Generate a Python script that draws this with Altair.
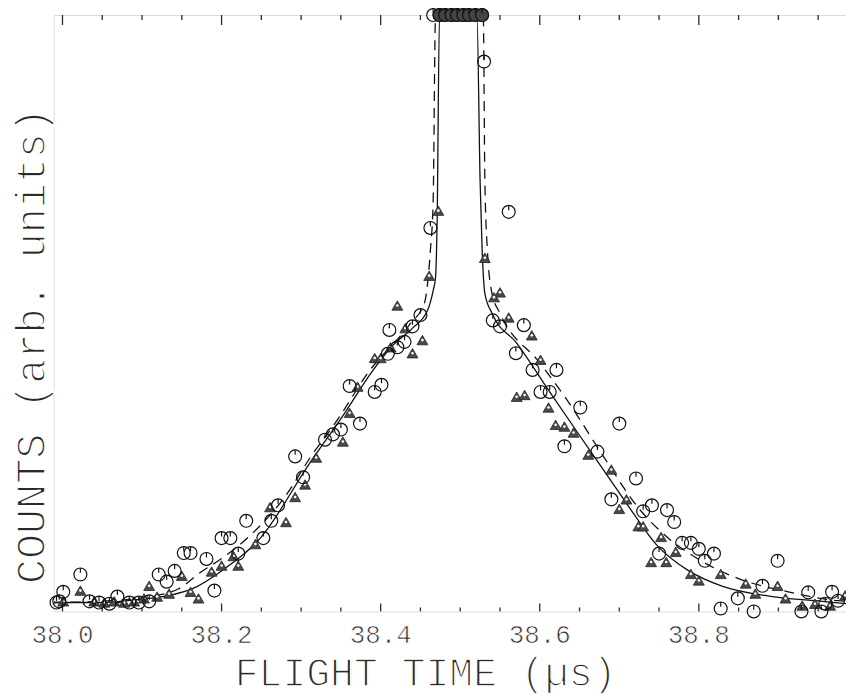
import altair as alt
import pandas as pd

# ---- data (x: flight time in µs, y: counts, arb. units 0-100) ----
circle_x = [37.9925, 38.001, 38.0225, 37.996, 38.034, 38.046, 38.059, 38.069, 38.084, 38.096,
            38.109, 38.121, 38.131, 38.141, 38.1525, 38.161, 38.181, 38.191, 38.200, 38.211,
            38.221, 38.231, 38.2525, 38.2625, 38.271, 38.2925, 38.3025, 38.33, 38.34, 38.35,
            38.361, 38.374, 38.3925, 38.401, 38.409, 38.411, 38.421, 38.43, 38.44, 38.45,
            38.4625,
            38.466, 38.474, 38.481, 38.489, 38.496, 38.504, 38.511, 38.519, 38.5275,
            38.53, 38.561, 38.541, 38.55, 38.58, 38.57, 38.591, 38.621, 38.601, 38.6125,
            38.651, 38.70, 38.631, 38.6725, 38.721, 38.69, 38.741, 38.73, 38.76, 38.769,
            38.75, 38.779, 38.79, 38.80, 38.819, 38.8075, 38.899, 38.849, 38.88, 38.8275,
            38.869, 38.9675, 38.9375, 38.975, 38.929, 38.954, 38.959]
circle_y = [1.5, 3.3, 6.2, 1.7, 1.7, 1.5, 1.3, 2.5, 1.5, 1.5,
            1.7, 6.2, 5.0, 6.8, 9.8, 9.8, 8.8, 3.5, 12.3, 12.3,
            9.7, 15.2, 12.3, 15.2, 17.8, 26.0, 22.5, 28.8, 29.7, 30.5,
            37.8, 31.5, 36.8, 38.0, 43.2, 47.2, 44.3, 45.2, 47.8, 49.7,
            64.3,
            100, 100, 100, 100, 100, 100, 100, 100, 100,
            92.2, 67.0, 48.8, 47.8, 48.0, 43.3, 40.5, 40.5, 36.8, 36.8,
            34.2, 31.5, 27.7, 26.8, 22.3, 18.8, 17.8, 16.8, 17.0, 15.0,
            9.7, 11.5, 11.5, 10.5, 9.7, 8.5, 8.5, 2.2, 4.3, 0.5,
            0.0, 3.3, 3.2, 1.8, 0.0, 0.0, 1.3]

tri_x = [38.001, 38.0225, 38.04, 38.0525, 38.065, 38.0775, 38.09, 38.1025, 38.109, 38.119,
         38.134, 38.15, 38.161, 38.171, 38.1875, 38.20, 38.215, 38.221, 38.2425, 38.261,
         38.281, 38.2925, 38.305, 38.319, 38.3525, 38.361, 38.371, 38.3925, 38.40, 38.4125,
         38.421, 38.431, 38.44, 38.4525, 38.461, 38.4725,
         38.476, 38.484, 38.491, 38.499, 38.506, 38.514, 38.521,
         38.531, 38.5425, 38.55, 38.561, 38.59, 38.601, 38.571, 38.581, 38.611, 38.62,
         38.631, 38.6425, 38.661, 38.69, 38.709, 38.70, 38.724, 38.73, 38.7525, 38.74,
         38.759, 38.771, 38.79, 38.80, 38.8275, 38.859, 38.899, 38.93, 38.984, 38.871,
         38.909, 38.946, 38.965]
tri_y = [1.7, 3.5, 1.7, 1.5, 1.7, 1.5, 1.7, 2.2, 4.3, 2.5,
         3.0, 6.0, 3.3, 2.2, 6.7, 7.7, 9.3, 7.7, 11.3, 17.5,
         15.0, 19.2, 21.3, 25.8, 28.5, 33.3, 37.7, 42.5, 42.5, 44.3,
         51.3, 47.5, 43.3, 45.5, 56.3, 67.2,
         100, 100, 100, 100, 100, 100, 100,
         59.3, 52.7, 53.5, 49.3, 46.3, 42.2, 36.0, 36.3, 34.2, 31.3,
         31.0, 30.0, 26.3, 23.8, 18.8, 17.2, 14.3, 14.3, 12.5, 8.3,
         8.3, 10.0, 6.3, 5.2, 6.3, 4.7, 4.3, 1.0, 2.7, 3.0,
         2.2, 1.3, 1.0]

solid_x = [37.989, 38.046, 38.096, 38.134, 38.163, 38.200, 38.250, 38.309, 38.355, 38.388,
           38.413, 38.440, 38.459, 38.466, 38.469, 38.471, 38.474,
           38.521, 38.525, 38.5275, 38.531, 38.540, 38.571, 38.6125, 38.646, 38.684,
           38.7175, 38.746, 38.7875, 38.83, 38.8925, 38.955, 38.986]
solid_y = [1.5, 1.5, 2.0, 2.7, 3.8, 6.8, 12.5, 24.5, 33.3, 40.0,
           44.3, 47.5, 50.5, 53.8, 56.0, 65.5, 100,
           100, 72.2, 61.0, 53.3, 50.0, 45.0, 36.8, 30.3, 23.0,
           16.5, 11.3, 6.8, 4.2, 2.5, 1.7, 1.3]

dash_x = [37.989, 38.046, 38.109, 38.146, 38.175, 38.196, 38.234, 38.28, 38.3125, 38.346,
          38.384, 38.4375, 38.455, 38.459, 38.4625, 38.466, 38.469,
          38.529, 38.531, 38.534, 38.54, 38.55, 38.60, 38.634, 38.68, 38.725,
          38.7625, 38.799, 38.85, 38.9125, 38.975, 38.986]
dash_y = [1.5, 1.7, 2.5, 3.8, 6.7, 8.5, 12.5, 19.3, 26.0, 32.2,
          40.0, 48.3, 51.7, 55.0, 60.5, 68.8, 100,
          100, 72.2, 61.0, 53.3, 50.0, 41.7, 35.5, 26.0, 17.2,
          12.2, 8.8, 5.5, 3.3, 1.8, 1.7]

major_ticks = [38.0, 38.2, 38.4, 38.6, 38.8]
tick_labels = ["38.0", "38.2", "38.4", "38.6", "38.8"]
minor_ticks = [38.05, 38.10, 38.15, 38.25, 38.30, 38.35, 38.45, 38.50, 38.55,
               38.65, 38.70, 38.75, 38.85, 38.90, 38.95]
x_title = "FLIGHT TIME (µs)"
y_title = "COUNTS (arb. units)"

X_DOMAIN = [37.989, 38.985]
Y_DOMAIN = [0, 100]
FONT = "Liberation Mono"
INK = "#2a2a2a"
W, H = 797, 600

circles = pd.DataFrame({"t": circle_x, "c": circle_y})
tris = pd.DataFrame({"t": tri_x, "c": tri_y})
solid = pd.DataFrame({"t": solid_x, "c": solid_y})
dashed = pd.DataFrame({"t": dash_x, "c": dash_y})
majors = pd.DataFrame({"t": major_ticks, "label": tick_labels})
minors = pd.DataFrame({"t": minor_ticks})

xenc = alt.X("t:Q", scale=alt.Scale(domain=X_DOMAIN, nice=False, zero=False), axis=None)
yenc = alt.Y("c:Q", scale=alt.Scale(domain=Y_DOMAIN, nice=False, zero=False), axis=None)

solid_line = alt.Chart(solid).mark_line(
    color="#111111", strokeWidth=1.3, interpolate="monotone", clip=True
).encode(x=xenc, y=yenc)

dash_line = alt.Chart(dashed).mark_line(
    color="#111111", strokeWidth=1.3, strokeDash=[10, 7], interpolate="monotone", clip=True
).encode(x=xenc, y=yenc)

tri_pts = alt.Chart(tris).mark_point(
    shape="triangle-up", filled=True, fill="#4a4a4a", stroke="#222222",
    strokeWidth=0.8, size=120, opacity=1
).encode(x=xenc, y=yenc)

tri_dots = alt.Chart(tris).mark_point(
    shape="circle", filled=True, color="white", size=7, opacity=1
).encode(x=xenc, y=yenc)

circ_pts = alt.Chart(circles).mark_point(
    shape="circle", filled=False, stroke="#111111", strokeWidth=1.2, size=169, opacity=1
).encode(x=xenc, y=yenc)

circ_top = alt.Chart(circles).transform_filter(
    (alt.datum.c >= 100) & (alt.datum.t > 38.47)
).mark_point(
    shape="circle", filled=True, fill="#444444", stroke="#111111", strokeWidth=1.2,
    size=169, opacity=1
).encode(x=xenc, y=yenc)

circ_marks = alt.Chart(circles).mark_point(
    shape="M0,-1L0,-0.25", filled=False, stroke="#111111", strokeWidth=1.2, size=169, opacity=1
).encode(x=xenc, y=yenc)

bot_major = alt.Chart(majors).mark_rule(color=INK, strokeWidth=1.3).encode(
    x=xenc, y=alt.value(H), y2=alt.value(H - 8))
bot_minor = alt.Chart(minors).mark_rule(color=INK, strokeWidth=1.3).encode(
    x=xenc, y=alt.value(H), y2=alt.value(H - 4))
top_major = alt.Chart(majors).mark_rule(color=INK, strokeWidth=1.3).encode(
    x=xenc, y=alt.value(0), y2=alt.value(10))
top_minor = alt.Chart(minors).mark_rule(color=INK, strokeWidth=1.3).encode(
    x=xenc, y=alt.value(0), y2=alt.value(5))

labels = alt.Chart(majors).mark_text(
    font=FONT, fontSize=26, color=INK, stroke="white", strokeWidth=0.7,
    align="center", baseline="alphabetic"
).encode(x=xenc, y=alt.value(H + 32), text="label:N")

xt = alt.Chart(pd.DataFrame({"text": [x_title]})).mark_text(
    font=FONT, fontSize=40, color=INK, stroke="white", strokeWidth=1.5,
    align="center", baseline="alphabetic"
).encode(x=alt.value(374), y=alt.value(675), text="text:N")

yt = alt.Chart(pd.DataFrame({"text": [y_title]})).mark_text(
    font=FONT, fontSize=42, color=INK, stroke="white", strokeWidth=1.6,
    align="center", baseline="alphabetic", angle=270
).encode(x=alt.value(-9), y=alt.value(333), text="text:N")

chart = alt.layer(
    bot_major, bot_minor, top_major, top_minor,
    solid_line, dash_line, tri_pts, tri_dots, circ_pts, circ_top, circ_marks,
    labels, xt, yt,
).properties(
    width=W, height=H,
    autosize=alt.AutoSizeParams(type="none"),
    padding={"left": 46, "top": 5, "right": 0, "bottom": 87},
).configure_view(
    stroke=INK, strokeWidth=1.6
).configure(background="white")

chart.save("out.html", embed_options={"renderer": "svg", "actions": False})
